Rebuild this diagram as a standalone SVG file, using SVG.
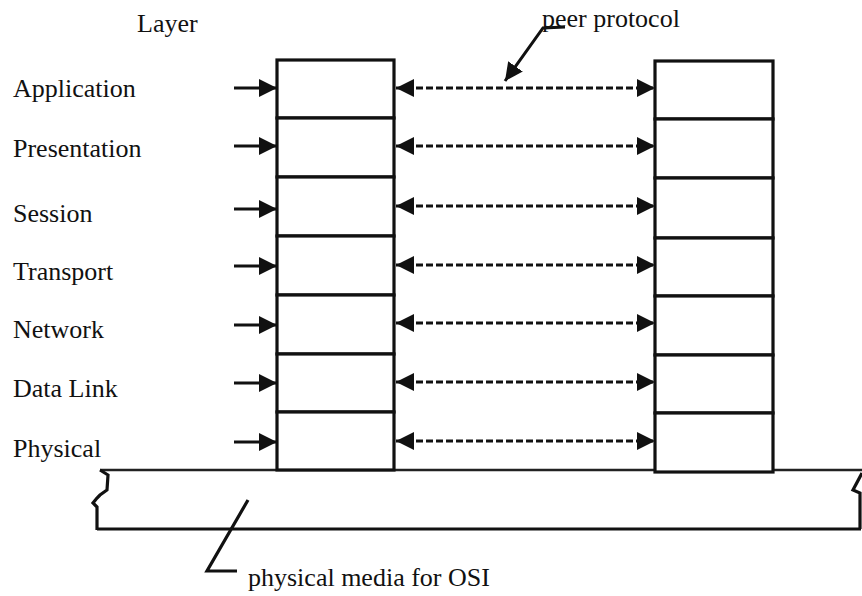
<svg xmlns="http://www.w3.org/2000/svg" width="862" height="596" viewBox="0 0 862 596">
<style>
text{font-family:"Liberation Serif","Times New Roman",serif;font-size:26px;fill:#111}
.box{fill:#fff;stroke:#111;stroke-width:3.2}
.solid{stroke:#111;stroke-width:3;fill:none}
.dash{stroke:#111;stroke-width:3;fill:none;stroke-dasharray:7 3}
.edge{stroke:#111;stroke-width:3.2;fill:none}
.thin{stroke:#222;stroke-width:2.4;fill:none}
</style>
<defs>
<marker id="ah" viewBox="0 0 18 18" refX="18" refY="9" markerWidth="18" markerHeight="18" markerUnits="userSpaceOnUse" orient="auto-start-reverse">
<path d="M0,0 L18,9 L0,18 Z" fill="#111"/>
</marker>
</defs>
<rect width="862" height="596" fill="#fff"/>

<g id="media">
<path class="thin" d="M100,470 L862,470"/>
<path class="edge" d="M100,470 L108,475 L107,490 L100,495 L97,498 L93,503 L97,507 L97,530"/>
<path class="edge" d="M97,529 L861,529"/>
<path class="edge" d="M862,473 L853,490 L860,493 L860,529"/>
</g>

<g id="left-stack">
<rect id="l-app" class="box" x="277" y="60" width="117" height="58"/>
<rect id="l-pre" class="box" x="277" y="118" width="117" height="59"/>
<rect id="l-ses" class="box" x="277" y="177" width="117" height="59"/>
<rect id="l-tra" class="box" x="277" y="236" width="117" height="59"/>
<rect id="l-net" class="box" x="277" y="295" width="117" height="59"/>
<rect id="l-dl" class="box" x="277" y="354" width="117" height="58"/>
<rect id="l-phy" class="box" x="277" y="412" width="117" height="58"/>
</g>

<g id="right-stack">
<rect id="r-app" class="box" x="655" y="61" width="118" height="58"/>
<rect id="r-pre" class="box" x="655" y="119" width="118" height="59"/>
<rect id="r-ses" class="box" x="655" y="178" width="118" height="60"/>
<rect id="r-tra" class="box" x="655" y="238" width="118" height="58"/>
<rect id="r-net" class="box" x="655" y="296" width="118" height="59"/>
<rect id="r-dl" class="box" x="655" y="355" width="118" height="58"/>
<rect id="r-phy" class="box" x="655" y="413" width="118" height="59"/>
</g>

<g id="labels">
<text x="137" y="32">Layer</text>
<text x="13" y="97">Application</text>
<text x="13" y="157">Presentation</text>
<text x="13" y="222">Session</text>
<text x="13" y="280">Transport</text>
<text x="13" y="338">Network</text>
<text x="13" y="397">Data Link</text>
<text x="13" y="457">Physical</text>
<text x="542" y="27">peer protocol</text>
<text x="248" y="586">physical media for OSI</text>
</g>

<g id="connectors">
<line class="solid" x1="234" y1="88" x2="277" y2="88" marker-end="url(#ah)"/>
<line class="solid" x1="234" y1="146" x2="277" y2="146" marker-end="url(#ah)"/>
<line class="solid" x1="234" y1="209" x2="277" y2="209" marker-end="url(#ah)"/>
<line class="solid" x1="234" y1="266" x2="277" y2="266" marker-end="url(#ah)"/>
<line class="solid" x1="234" y1="325" x2="277" y2="325" marker-end="url(#ah)"/>
<line class="solid" x1="234" y1="383" x2="277" y2="383" marker-end="url(#ah)"/>
<line class="solid" x1="234" y1="442" x2="277" y2="442" marker-end="url(#ah)"/>

<line class="dash" x1="396" y1="88" x2="655" y2="88" marker-start="url(#ah)" marker-end="url(#ah)"/>
<line class="dash" x1="396" y1="146" x2="655" y2="146" marker-start="url(#ah)" marker-end="url(#ah)"/>
<line class="dash" x1="396" y1="206" x2="655" y2="206" marker-start="url(#ah)" marker-end="url(#ah)"/>
<line class="dash" x1="396" y1="265" x2="655" y2="265" marker-start="url(#ah)" marker-end="url(#ah)"/>
<line class="dash" x1="396" y1="323" x2="655" y2="323" marker-start="url(#ah)" marker-end="url(#ah)"/>
<line class="dash" x1="396" y1="382" x2="655" y2="382" marker-start="url(#ah)" marker-end="url(#ah)"/>
<line class="dash" x1="396" y1="441" x2="655" y2="441" marker-start="url(#ah)" marker-end="url(#ah)"/>

<path class="solid" d="M565,27 L543,28 L505,81" marker-end="url(#ah)"/>
<path class="edge" d="M248,500 L207,571 L237,571"/>
</g>
</svg>
